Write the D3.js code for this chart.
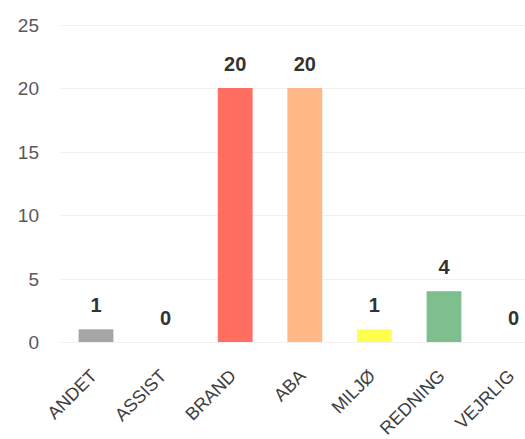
<!DOCTYPE html>
<html><head><meta charset="utf-8">
<script src="https://cdn.jsdelivr.net/npm/d3@7"></script>
<style>body{margin:0;background:#fff}svg{display:block}</style>
</head><body>
<svg id="c" width="525" height="439"></svg>
<script>
const categories = ["ANDET","ASSIST","BRAND","ABA","MILJØ","REDNING","VEJRLIG"];
const values = [1,0,20,20,1,4,0];
const colors = ["#a6a6a6","#bdbdbd","#ff6e61","#ffb886","#ffff50","#7dc08d","#bdbdbd"];
const yTicks = [0,5,10,15,20,25];

const svg = d3.select("#c");
const font = "'Liberation Sans', Arial, sans-serif";
const y = d3.scaleLinear().domain([0,25]).range([342,24.5]);
const x = d3.scaleBand().domain(categories).range([61.2,548.4]).paddingInner(0.5).paddingOuter(0.25);

// gridlines
svg.append("g").selectAll("line").data(yTicks).join("line")
  .attr("x1",60).attr("x2",525)
  .attr("y1",d=>Math.round(y(d))+0.5).attr("y2",d=>Math.round(y(d))+0.5)
  .attr("stroke","#f0f0f0").attr("stroke-width",1);

// y axis labels
const yAxis = d3.axisLeft(y).tickValues(yTicks).tickSize(0).tickPadding(0);
const gy = svg.append("g").attr("transform","translate(39,0)").call(yAxis);
gy.select(".domain").remove();
gy.selectAll("text").attr("font-family",font).attr("font-size",19).attr("fill","#595959").attr("dy","0.35em");

// bars
svg.append("g").selectAll("rect").data(values).join("rect")
  .attr("x",(d,i)=>x(categories[i]))
  .attr("width",x.bandwidth())
  .attr("y",d=>y(d))
  .attr("height",d=>y(0)-y(d))
  .attr("fill",(d,i)=>colors[i]);

// value labels
svg.append("g").selectAll("text").data(values).join("text")
  .attr("x",(d,i)=>x(categories[i])+x.bandwidth()/2)
  .attr("y",d=>y(d)-24)
  .attr("text-anchor","middle")
  .attr("font-family",font).attr("font-weight","bold").attr("font-size",20)
  .attr("fill","#333").attr("dy","0.35em")
  .text(d=>d);

// x axis labels
const xAxis = d3.axisBottom(x).tickSize(0).tickPadding(0);
const gx = svg.append("g").call(xAxis);
gx.select(".domain").remove();
gx.selectAll(".tick").attr("transform",d=>`translate(${x(d)+x.bandwidth()/2+2},377)`);
gx.selectAll("text").attr("font-family",font).attr("font-size",18).attr("fill","#404040")
  .attr("y",0).attr("dy",0).attr("text-anchor","end").attr("transform","rotate(-45)");
</script>
</body></html>
